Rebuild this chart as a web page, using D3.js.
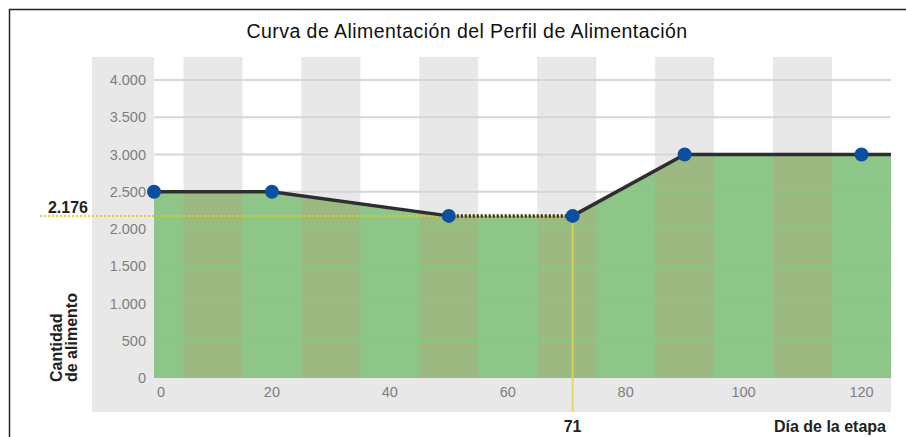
<!DOCTYPE html>
<html><head><meta charset="utf-8">
<script src="https://cdn.jsdelivr.net/npm/d3@7"></script>
<style>body{margin:0;background:#fff}svg{display:block;font-family:"Liberation Sans",Arial,sans-serif}</style>
</head><body><svg id="c" width="906" height="437"></svg>
<script>
const title = "Curva de Alimentación del Perfil de Alimentación";
const days = [0, 20, 50, 71, 90, 120];
const amounts = [2500, 2500, 2176, 2176, 3000, 3000];
const yTicks = [0, 500, 1000, 1500, 2000, 2500, 3000, 3500, 4000];
const yTickLabels = ["0", "500", "1.000", "1.500", "2.000", "2.500", "3.000", "3.500", "4.000"];
const xTicks = [0, 20, 40, 60, 80, 100, 120];
const markerDay = 71, markerValue = 2176;
const markerValueLabel = "2.176", markerDayLabel = "71";
const xTitle = "Día de la etapa";
const yTitle = ["Cantidad", "de alimento"];
const dottedSegment = [2, 3];

const svg = d3.select("#c");
const x = d3.scaleLinear().domain([0, 125]).range([154, 891]);
const y = d3.scaleLinear().domain([0, 4000]).range([378, 80]);
const plotTop = 57, panelLeft = 92, panelBottom = 412;

// frame
svg.append("path").attr("d", "M9.5,437 V9.5 H906").attr("fill", "none").attr("stroke", "#222").attr("stroke-width", 1.5);

// title
svg.append("text").attr("x", 467).attr("y", 38).attr("text-anchor", "middle")
  .attr("font-size", 19.5).attr("letter-spacing", 0.45).attr("fill", "#111").text(title);

// grey panel
svg.append("rect").attr("x", panelLeft).attr("y", plotTop).attr("width", x.range()[1] - panelLeft)
  .attr("height", panelBottom - plotTop).attr("fill", "#e8e8e8");
// plot background white
svg.append("rect").attr("x", x(0)).attr("y", plotTop).attr("width", x(125) - x(0))
  .attr("height", y(0) - plotTop).attr("fill", "#ffffff");
// grey bands centred on odd tens
const bands = d3.range(5, 125, 20);
svg.selectAll(".band").data(bands).join("rect")
  .attr("x", d => x(d)).attr("y", plotTop).attr("width", d => x(d + 10) - x(d))
  .attr("height", y(0) - plotTop).attr("fill", "#e8e8e8");
// gridlines
svg.selectAll(".grid").data(yTicks.slice(1)).join("line")
  .attr("x1", x(0)).attr("x2", x(125)).attr("y1", d => y(d)).attr("y2", d => y(d))
  .attr("stroke", "#d6d6d6").attr("stroke-width", 2);

// area
const pts = days.map((d, i) => [d, amounts[i]]);
const ext = pts.concat([[125, amounts[amounts.length - 1]]]);
const area = d3.area().x(d => x(d[0])).y0(y(0)).y1(d => y(d[1]));
svg.append("defs").append("clipPath").attr("id", "ac").append("path").attr("d", area(ext));
svg.append("path").attr("d", area(ext)).attr("fill", "#8ec68a");
const g = svg.append("g").attr("clip-path", "url(#ac)");
g.selectAll("rect").data(bands).join("rect")
  .attr("x", d => x(d)).attr("y", plotTop).attr("width", d => x(d + 10) - x(d))
  .attr("height", y(0) - plotTop).attr("fill", "#9bb981");
g.selectAll("line").data(yTicks.slice(1)).join("line")
  .attr("x1", x(0)).attr("x2", x(125)).attr("y1", d => y(d)).attr("y2", d => y(d))
  .attr("stroke", "#83cc7c").attr("stroke-width", 1.5);

// marker lines
svg.append("line").attr("x1", 40).attr("x2", x(markerDay)).attr("y1", y(markerValue)).attr("y2", y(markerValue))
  .attr("stroke", "#f2c511").attr("stroke-width", 2).attr("stroke-dasharray", "2,2").attr("opacity", 0.85);
svg.append("line").attr("x1", x(markerDay)).attr("x2", x(markerDay)).attr("y1", y(markerValue)).attr("y2", panelBottom)
  .attr("stroke", "#f0d24a").attr("stroke-width", 2).attr("opacity", 0.8);

// curve
const line = d3.line().x(d => x(d[0])).y(d => y(d[1]));
const solid1 = ext.slice(0, dottedSegment[0] + 1);
const dotted = ext.slice(dottedSegment[0], dottedSegment[1] + 1);
const solid2 = ext.slice(dottedSegment[1]);
[solid1, solid2].forEach(s => svg.append("path").attr("d", line(s)).attr("fill", "none")
  .attr("stroke", "#2e2e2e").attr("stroke-width", 3.5));
svg.append("path").attr("d", line(dotted)).attr("fill", "none")
  .attr("stroke", "#2e2e2e").attr("stroke-width", 3.5).attr("stroke-dasharray", "2,2");

svg.selectAll(".pt").data(pts).join("circle")
  .attr("cx", d => x(d[0])).attr("cy", d => y(d[1])).attr("r", 7).attr("fill", "#0c4fa0");

// y axis labels
svg.selectAll(".yl").data(yTicks).join("text")
  .attr("x", 146).attr("y", d => y(d)).attr("dy", "0.35em").attr("text-anchor", "end")
  .attr("font-size", 14.5).attr("fill", "#7e7e7e").text((d, i) => yTickLabels[i]);
// x axis labels
svg.selectAll(".xl").data(xTicks).join("text")
  .attr("x", d => x(d) + (d === 0 ? 7 : 0)).attr("y", 397).attr("text-anchor", "middle")
  .attr("font-size", 14.5).attr("fill", "#7e7e7e").text(d => d);

// marker labels
svg.append("text").attr("x", 88).attr("y", 213).attr("text-anchor", "end")
  .attr("font-size", 16).attr("font-weight", "bold").attr("fill", "#222").text(markerValueLabel);
svg.append("text").attr("x", x(markerDay)).attr("y", 432).attr("text-anchor", "middle")
  .attr("font-size", 16).attr("font-weight", "bold").attr("fill", "#222").text(markerDayLabel);
svg.append("text").attr("x", 886).attr("y", 432).attr("text-anchor", "end")
  .attr("font-size", 16).attr("font-weight", "bold").attr("fill", "#222").text(xTitle);
const yt = svg.append("text").attr("transform", "translate(62,382) rotate(-90)")
  .attr("font-size", 16).attr("font-weight", "bold").attr("fill", "#222");
yt.append("tspan").attr("x", 0).attr("y", 0).text(yTitle[0]);
yt.append("tspan").attr("x", 0).attr("y", 15).text(yTitle[1]);
</script></body></html>
